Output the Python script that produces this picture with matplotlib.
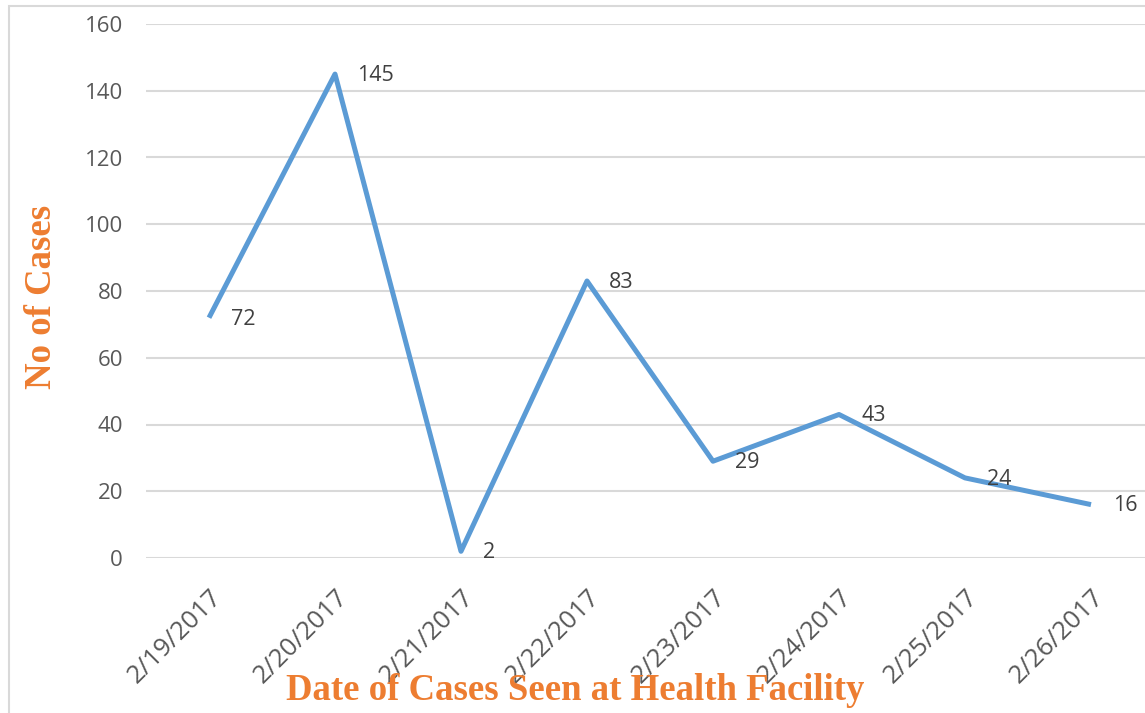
import matplotlib.pyplot as plt
import matplotlib.transforms as mtransforms
from matplotlib.patches import Rectangle

dates = ["2/19/2017", "2/20/2017", "2/21/2017", "2/22/2017",
         "2/23/2017", "2/24/2017", "2/25/2017", "2/26/2017"]
cases = [72, 145, 2, 83, 29, 43, 24, 16]
y_ticks = [0, 20, 40, 60, 80, 100, 120, 140, 160]

W, H = 1145, 713
fig = plt.figure(figsize=(W / 100, H / 100), dpi=100)

# chart border (runs off the right and bottom edges like the source)
fig.patches.append(Rectangle((9 / W, -0.1), 1.2, 1 - 6 / H + 0.1,
                             transform=fig.transFigure, fill=False,
                             edgecolor="#D9D9D9", linewidth=1.5))

left, right, top, bottom = 146, 1154, 24, 558
ax = fig.add_axes([left / W, 1 - bottom / H, (right - left) / W, (bottom - top) / H])

x = list(range(len(dates)))
ax.plot(x, cases, color="#5B9BD5", linewidth=3.6, solid_capstyle="butt", zorder=3)
for xi, v in zip(x, cases):
    ax.annotate(str(v), (xi, v), xytext=(16, -1), textcoords="offset points",
                ha="left", va="center", fontsize=15.5, color="#404040",
                family="Open Sans")

ax.set_xlim(-0.5, len(dates) - 0.5)
ax.set_ylim(0, 160)
ax.set_yticks(y_ticks)
ax.set_xticks(x)
ax.set_xticklabels(dates, rotation=45, ha="right", rotation_mode="anchor",
                   fontsize=18.5, color="#595959", family="Open Sans")
shift = mtransforms.ScaledTranslation(-5 / 100, 0, fig.dpi_scale_trans)
for lab in ax.get_xticklabels():
    lab.set_transform(lab.get_transform() + shift)
for lab in ax.get_yticklabels():
    lab.set_fontsize(16)
    lab.set_color("#595959")
    lab.set_family("Open Sans")
ax.tick_params(axis="both", length=0)
ax.tick_params(axis="y", pad=16.5)
ax.tick_params(axis="x", pad=19)
ax.grid(axis="y", color="#D9D9D9", linewidth=1.5)
ax.set_axisbelow(True)
for s in ax.spines.values():
    s.set_visible(False)

fig.text(575 / W, 1 - 690 / H, "Date of Cases Seen at Health Facility",
         ha="center", va="center", fontsize=26.5, fontweight="bold",
         color="#ED7D31", family="Liberation Serif")
fig.text(42 / W, 1 - 297 / H, "No of Cases", ha="center", va="center",
         rotation=90, fontsize=26.5, fontweight="bold",
         color="#ED7D31", family="Liberation Serif")

fig.savefig("out.png", dpi=100)
